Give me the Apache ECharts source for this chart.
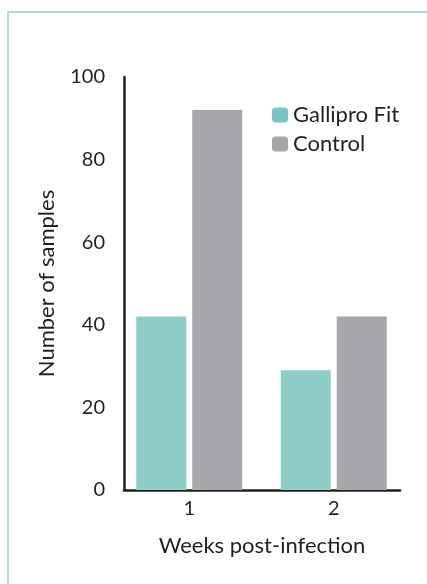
<!DOCTYPE html>
<html><head><meta charset="utf-8">
<script src="https://cdn.jsdelivr.net/npm/echarts@6/dist/echarts.min.js"></script>
<style>html,body{margin:0;padding:0;background:#fff}#c{width:427px;height:584px}</style>
</head><body><div id="c"></div>
<script>
const categories = ['1', '2'];
const galliproFit = [42, 29];
const control = [92, 42];
const yTicks = [0, 20, 40, 60, 80, 100];
const seriesNames = ['Gallipro Fit', 'Control'];

const FONT = 'Lato';
const TXT = '#231f20';
const chart = echarts.init(document.getElementById('c'), null, {renderer: 'canvas'});
chart.setOption({
  animation: false,
  backgroundColor: '#fff',
  graphic: [{type: 'rect', shape: {x: 8, y: 12, width: 440, height: 600}, style: {fill: 'none', stroke: '#a9ddd9', lineWidth: 2}, silent: true}],
  legend: {
    left: 272, top: 104, padding: 0, orient: 'vertical', itemWidth: 16, itemHeight: 15, itemGap: 7,
    textStyle: {fontFamily: FONT, fontSize: 22, color: TXT, padding: [0, 0, 0, 0]},
    data: [{name: seriesNames[0], itemStyle: {color: '#77c5bf'}}, {name: seriesNames[1], itemStyle: {color: '#a7a7ab'}}]
  },
  grid: [
    {left: 117, right: 21, top: 77, bottom: 94},
    {left: 124, right: 27, top: 77, bottom: 94}
  ],
  xAxis: [
    {type: 'category', gridIndex: 0, data: categories, axisLine: {show: false}, axisTick: {show: false},
     axisLabel: {fontFamily: FONT, fontSize: 20, color: TXT, margin: 9}},
    {type: 'category', gridIndex: 1, data: categories, axisLine: {show: true, lineStyle: {color: TXT, width: 2.5}},
     axisTick: {show: false}, axisLabel: {show: false},
     name: 'Weeks post-infection', nameLocation: 'middle', nameGap: 45,
     nameTextStyle: {fontFamily: FONT, fontSize: 22, color: TXT}}
  ],
  yAxis: [
    {type: 'value', gridIndex: 0, min: 0, max: 100, interval: 20, show: false},
    {type: 'value', gridIndex: 1, min: 0, max: 100, interval: 20,
     axisLine: {show: true, lineStyle: {color: TXT, width: 2.5}}, axisTick: {show: false}, splitLine: {show: false},
     axisLabel: {fontFamily: FONT, fontSize: 20, color: TXT, margin: 19,
       formatter: v => yTicks.includes(v) ? String(v) : ''},
     name: 'Number of samples', nameLocation: 'middle', nameGap: 66,
     nameTextStyle: {fontFamily: FONT, fontSize: 22, color: TXT}}
  ],
  series: [
    {name: seriesNames[0], type: 'bar', xAxisIndex: 0, yAxisIndex: 0, data: galliproFit, barWidth: 50, barGap: '12%', itemStyle: {color: '#8fcdc8'}},
    {name: seriesNames[1], type: 'bar', xAxisIndex: 0, yAxisIndex: 0, data: control, barWidth: 50, barGap: '12%', itemStyle: {color: '#a7a7ab'}}
  ]
});
</script></body></html>
